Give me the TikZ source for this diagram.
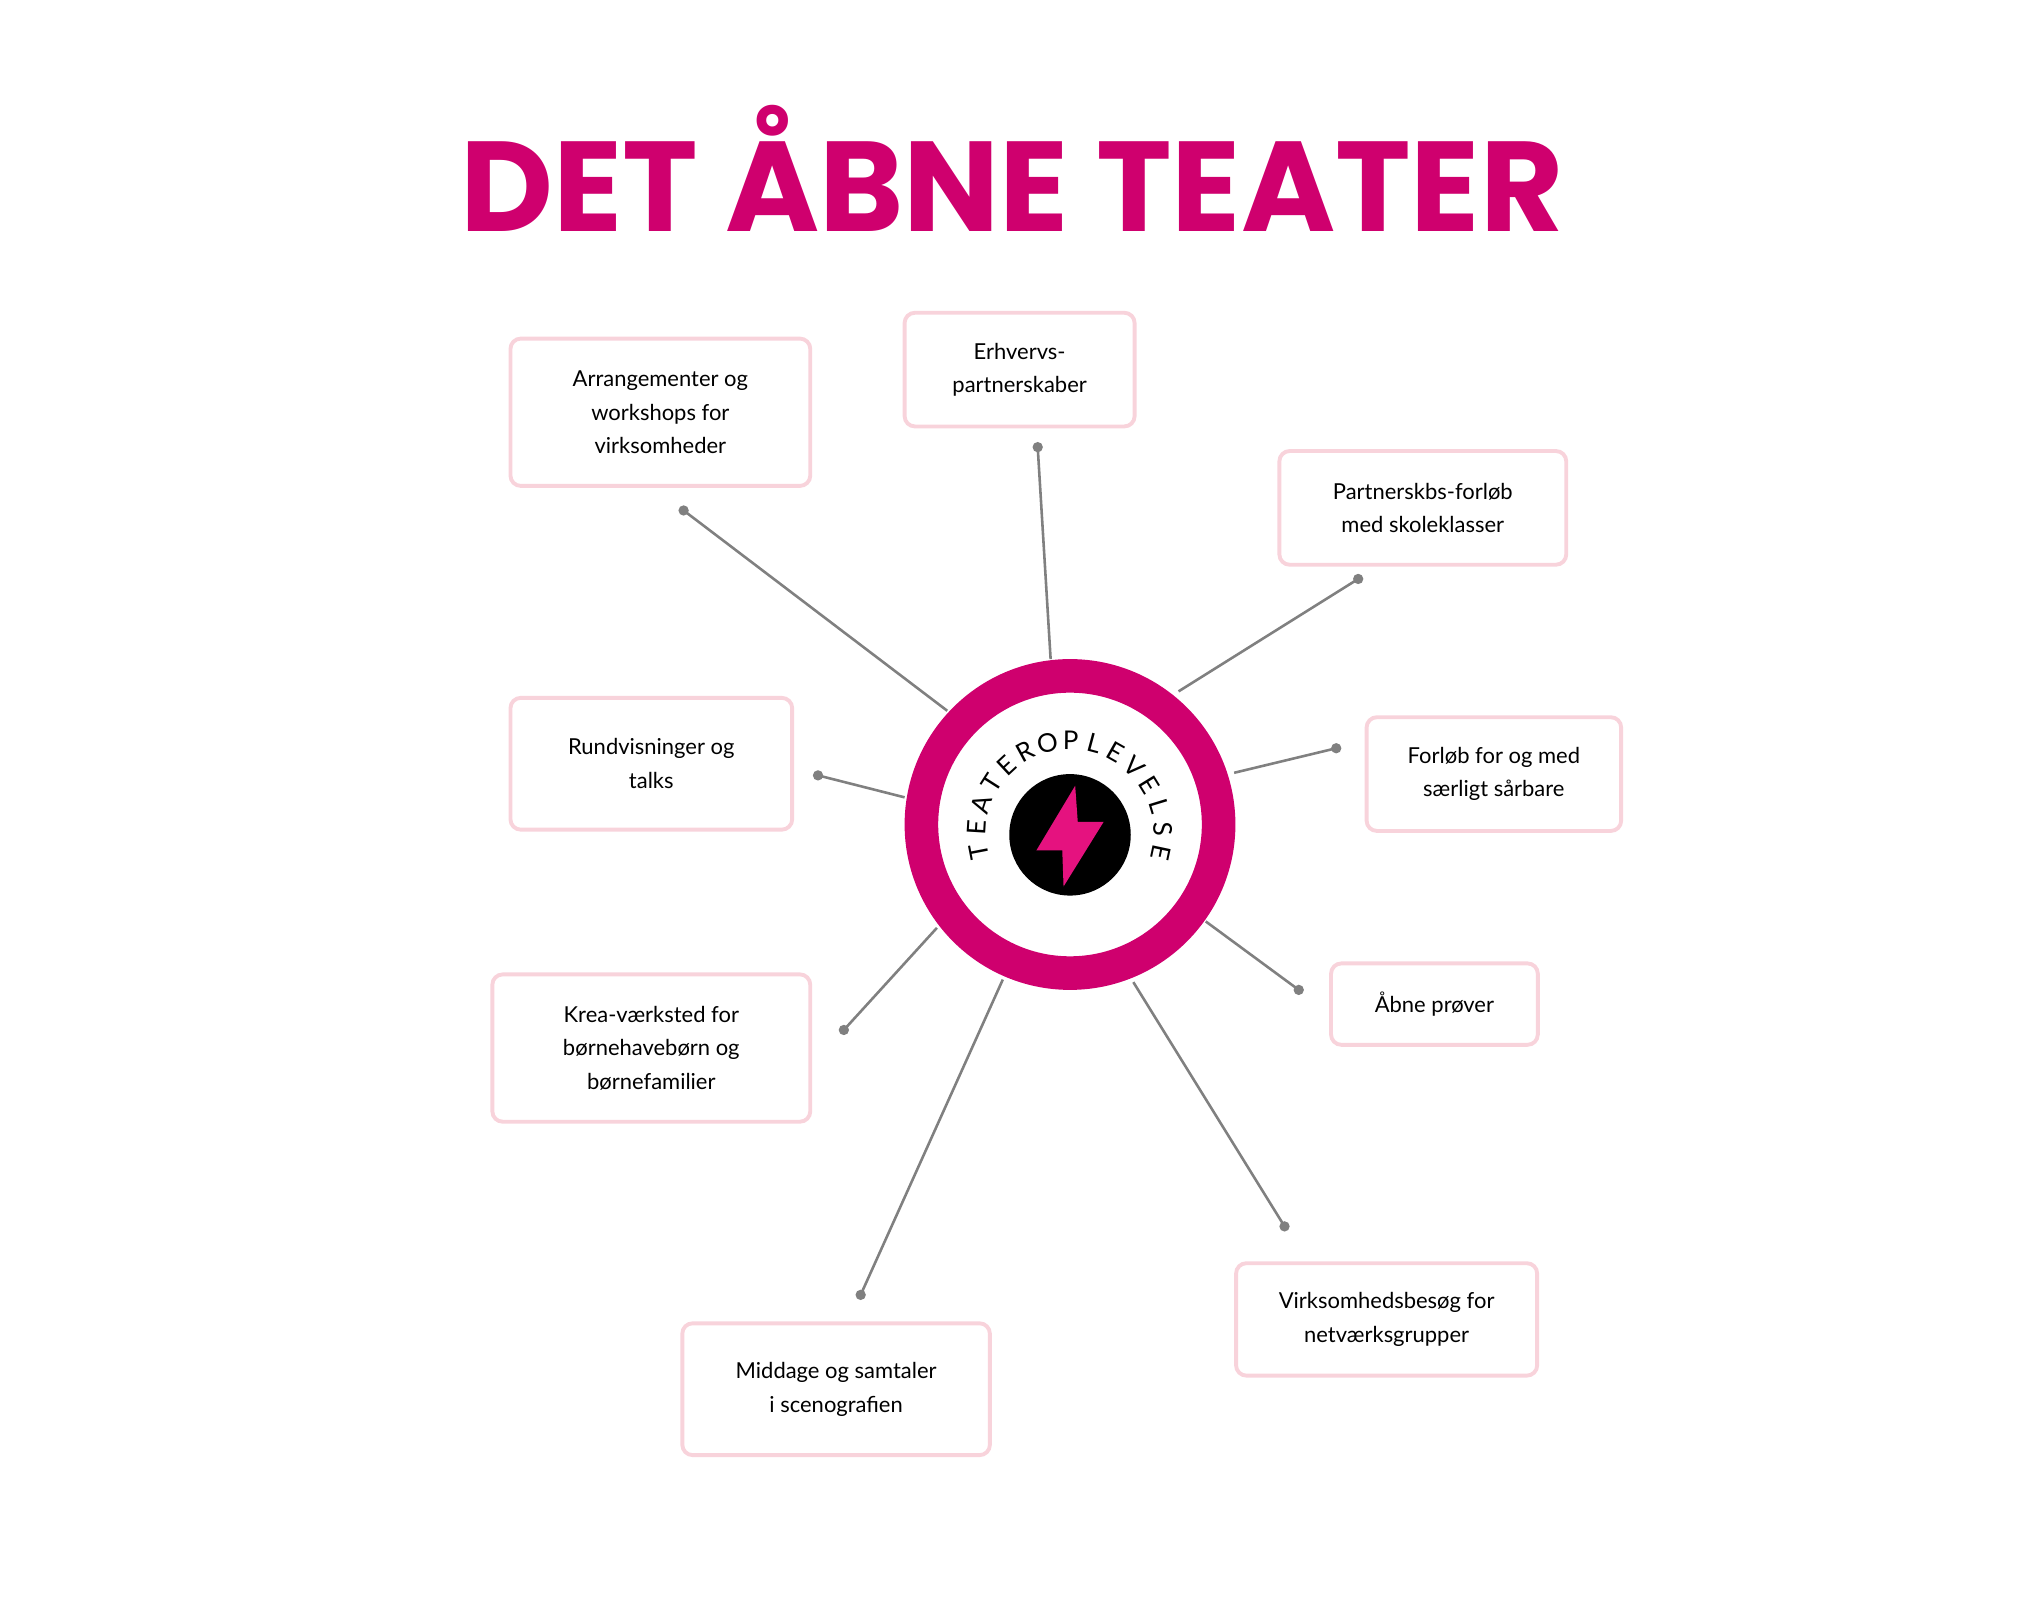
\documentclass[tikz,border=0pt]{standalone}
\usepackage{fontspec}
\setmainfont{Lato}
\newfontfamily\titlefont{Poppins}
\definecolor{mag}{HTML}{CF006E}
\definecolor{boltpink}{HTML}{E5127F}
\definecolor{boxpink}{HTML}{F8D3DB}
\definecolor{lgray}{HTML}{808080}
\begin{document}
\begin{tikzpicture}[x=1pt,y=-1pt,
  box/.style={draw=boxpink,line width=3pt,rounded corners=8pt,align=center,font=\fontsize{17}{26}\selectfont,inner sep=0pt},
  con/.style={draw=lgray,line width=2pt},
  dot/.style={circle,fill=lgray,inner sep=0pt,minimum size=8pt},
  arcl/.style={inner sep=0pt,font=\fontsize{20}{20}\selectfont}]
\useasboundingbox (0,0) rectangle (1567,1254);
\node (title) at (783,130) {\titlefont\bfseries\fontsize{99}{99}\selectfont\color{mag}DET ÅBNE TEATER};
% boxes
\node[box,minimum width=232,minimum height=114] (b1) at (511,319) {Arrangementer og\\workshops for\\virksomheder};
\node[box,minimum width=178,minimum height=88] (b2) at (789,286) {Erhvervs-\\partnerskaber};
\node[box,minimum width=222,minimum height=88] (b3) at (1101,393) {Partnerskbs-forløb\\med skoleklasser};
\node[box,minimum width=197,minimum height=88] (b4) at (1156,599) {Forløb for og med\\særligt sårbare};
\node[box,minimum width=160,minimum height=63] (b5) at (1110,777) {Åbne prøver};
\node[box,minimum width=233,minimum height=87] (b6) at (1073,1021) {Virksomhedsbesøg for\\netværksgrupper};
\node[box,minimum width=238,minimum height=102] (b7) at (647,1075) {Middage og samtaler\\i scenografien};
\node[box,minimum width=246,minimum height=114] (b8) at (504,811) {Krea-værksted for\\børnehavebørn og\\børnefamilier};
\node[box,minimum width=218,minimum height=102] (b9) at (504,591) {Rundvisninger og\\talks};
% center
\node[circle,draw=mag,line width=26pt,minimum size=230pt,inner sep=0pt] (hub) at (828,638) {};
\node[circle,fill=black,minimum size=94pt,inner sep=0pt] (blk) at (828,646) {};
\fill[boltpink] ([shift={(4,-38)}]blk.center) -- ++(-30,50) -- ++(20,0) -- ++(1,28) -- ++(31,-50) -- ++(-20,0) -- cycle;
\foreach \ch [count=\i from 0] in {T,E,A,T,E,R,O,P,L,E,V,E,L,S,E} {
  \pgfmathsetmacro{\ang}{191-\i*14.5}
  \node[arcl,rotate=\ang-90] (t\i) at ([shift={(-\ang:72)}]828,645) {\ch};
}
% connectors
\coordinate (c1) at (733,550); \node[dot] (d1) at (529,395) {};
\coordinate (c2) at (813,510); \node[dot] (d2) at (803,346) {};
\coordinate (c3) at (912,535); \node[dot] (d3) at (1051,448) {};
\coordinate (c4) at (955,598); \node[dot] (d4) at (1034,579) {};
\coordinate (c5) at (933,713); \node[dot] (d5) at (1005,766) {};
\coordinate (c6) at (877,760); \node[dot] (d6) at (994,949) {};
\coordinate (c7) at (776,758); \node[dot] (d7) at (666,1002) {};
\coordinate (c8) at (725,718); \node[dot] (d8) at (653,797) {};
\coordinate (c9) at (700,617); \node[dot] (d9) at (633,600) {};
\foreach \i in {1,...,9} {\draw[con] (c\i) -- (d\i.center);}
\end{tikzpicture}
\end{document}
